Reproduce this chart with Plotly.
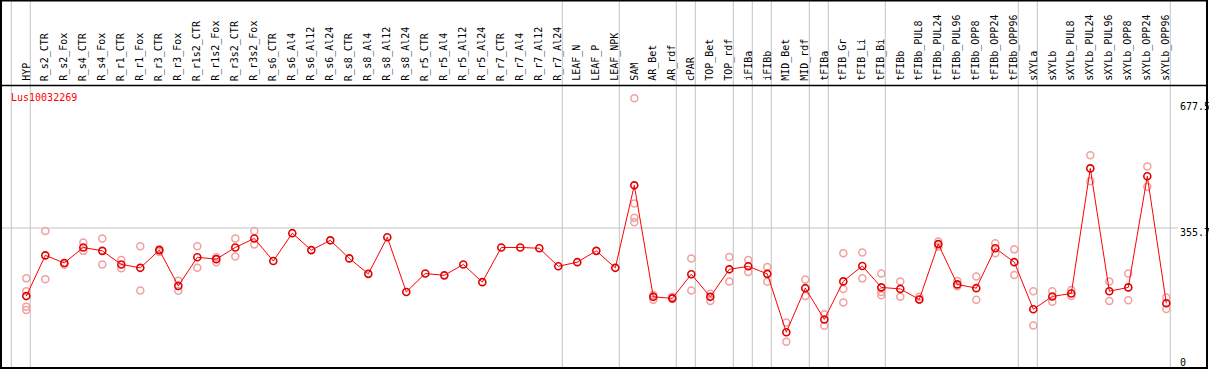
import plotly.graph_objects as go

W, H = 1209, 370

categories = [
    "HYP", "R_s2_CTR", "R_s2_Fox", "R_s4_CTR", "R_s4_Fox", "R_r1_CTR", "R_r1_Fox",
    "R_r3_CTR", "R_r3_Fox", "R_r1s2_CTR", "R_r1s2_Fox", "R_r3s2_CTR", "R_r3s2_Fox",
    "R_s6_CTR", "R_s6_Al4", "R_s6_Al12", "R_s6_Al24", "R_s8_CTR", "R_s8_Al4",
    "R_s8_Al12", "R_s8_Al24", "R_r5_CTR", "R_r5_Al4", "R_r5_Al12", "R_r5_Al24",
    "R_r7_CTR", "R_r7_Al4", "R_r7_Al12", "R_r7_Al24", "LEAF_N", "LEAF_P", "LEAF_NPK",
    "SAM", "AR_Bet", "AR_rdf", "cPAR", "TOP_Bet", "TOP_rdf", "iFIBa", "iFIBb",
    "MID_Bet", "MID_rdf", "tFIBa", "tFIB_Gr", "tFIB_Li", "tFIB_Bi", "tFIBb",
    "tFIBb_PUL8", "tFIBb_PUL24", "tFIBb_PUL96", "tFIBb_OPP8", "tFIBb_OPP24",
    "tFIBb_OPP96", "sXYLa", "sXYLb", "sXYLb_PUL8", "sXYLb_PUL24", "sXYLb_PUL96",
    "sXYLb_OPP8", "sXYLb_OPP24", "sXYLb_OPP96",
]

mean_values = [
    175, 283, 263, 304, 295, 259, 250, 297, 202, 278, 273, 304, 328,
    268, 342, 297, 323, 275, 234, 331, 186, 235, 230, 259, 212,
    304, 304, 302, 254, 265, 295, 250,
    469, 173, 169, 233, 173, 246, 254, 234,
    79, 196, 113, 214, 255, 198, 194,
    166, 313, 206, 196, 302, 265,
    140, 174, 182, 514, 188, 198, 493, 156,
]

replicate_values = [
    [222, 188, 147, 138], [348, 220], [262, 258], [317, 295], [328, 259],
    [271, 249], [307, 190], [299, 292], [216, 189], [307, 250], [278, 265],
    [328, 280], [348, 312],
    [], [], [], [], [], [], [], [], [], [], [], [], [], [], [], [], [], [], [],
    [700, 421, 383, 371], [178, 165], [173, 168], [275, 190], [181, 162],
    [279, 214], [271, 239], [252, 213], [105, 54], [219, 175], [127, 96],
    [289, 194, 158], [291, 222], [235, 186, 177], [214, 173],
    [173, 165], [320, 306], [215, 201], [227, 165], [315, 289], [299, 231],
    [188, 97], [188, 160], [191, 175], [549, 480], [214, 162], [235, 164],
    [519, 465], [171, 141],
]

# last category index of each group (vertical separators drawn after them)
group_ends = [-1, 0, 28, 31, 34, 35, 37, 38, 39, 41, 42, 45, 52, 53, 60]

gene_id = "Lus10032269"
axis_ticks = [0, 355.7, 677.5]

# ---- pixel geometry helpers ----
X0, DX = 26.3, 19.0          # pixel x of first category, spacing
Y0, KY = 362.0, 0.3767       # pixel y of value 0, pixels per unit


def px(x):
    return x / W


def py(y):
    return 1 - y / H


xr = [-X0 / DX, (W - X0) / DX]
yr = [(Y0 - H) / KY, Y0 / KY]

fig = go.Figure()

idx = list(range(len(categories)))

rx, ry = [], []
for i, reps in enumerate(replicate_values):
    for v in reps:
        rx.append(i)
        ry.append(v)

fig.add_trace(go.Scatter(
    x=rx, y=ry, mode="markers",
    marker=dict(symbol="circle-open", size=7, color="#f2a0a0",
                line=dict(width=1.5, color="#f2a0a0")),
    hoverinfo="skip", showlegend=False,
))

fig.add_trace(go.Scatter(
    x=idx, y=mean_values, mode="lines+markers",
    line=dict(color="#ff0000", width=1),
    marker=dict(symbol="circle-open", size=7, color="#e00000",
                line=dict(width=1.6, color="#e00000")),
    text=categories, hovertemplate="%{text}: %{y}<extra></extra>",
    showlegend=False,
))

shapes = []
grey = "#c4c4c4"
# vertical group separators
for e in group_ends:
    xv = X0 + DX * e + 4
    shapes.append(dict(type="line", xref="paper", yref="paper",
                       x0=px(xv), x1=px(xv), y0=py(0), y1=py(368),
                       line=dict(color=grey, width=1), layer="below"))
# horizontal grid at middle tick
ymid = Y0 - KY * axis_ticks[1]
shapes.append(dict(type="line", xref="paper", yref="paper",
                   x0=px(0), x1=px(1178), y0=py(ymid), y1=py(ymid),
                   line=dict(color=grey, width=1), layer="below"))
# header separator
shapes.append(dict(type="line", xref="paper", yref="paper",
                   x0=px(0), x1=px(1208), y0=py(85.5), y1=py(85.5),
                   line=dict(color="black", width=1.5)))
# frame
shapes.append(dict(type="rect", xref="paper", yref="paper",
                   x0=px(1), x1=px(1207), y0=py(368), y1=py(0.5),
                   line=dict(color="black", width=2)))

annotations = []
mono = "DejaVu Sans Mono"
for i, c in enumerate(categories):
    annotations.append(dict(
        x=i, xref="x", xshift=-0.5, y=py(83), yref="paper",
        text=c, textangle=-90, showarrow=False,
        xanchor="center", yanchor="bottom",
        font=dict(family=mono, size=10, color="black"),
    ))

annotations.append(dict(
    x=px(9), y=py(97), xref="paper", yref="paper", text=gene_id,
    showarrow=False, xanchor="left", yanchor="middle",
    font=dict(family=mono, size=10, color="#ff0000"),
))

tick_pixel_y = {0: 362, 1: 232, 2: 107}
for k, t in enumerate(axis_ticks):
    annotations.append(dict(
        x=px(1178), y=py(tick_pixel_y[k]), xref="paper", yref="paper",
        text=("%g" % t), showarrow=False, xanchor="left", yanchor="middle",
        font=dict(family=mono, size=10, color="black"),
    ))

fig.update_layout(
    width=W, height=H,
    margin=dict(l=0, r=0, t=0, b=0),
    paper_bgcolor="white", plot_bgcolor="white",
    xaxis=dict(range=xr, visible=False, fixedrange=True),
    yaxis=dict(range=yr, visible=False, fixedrange=True),
    shapes=shapes, annotations=annotations,
)

fig.write_html(
    "out.html",
    config={"displayModeBar": False},
    post_script="document.body.style.margin='0';document.body.style.overflow='hidden';",
)
